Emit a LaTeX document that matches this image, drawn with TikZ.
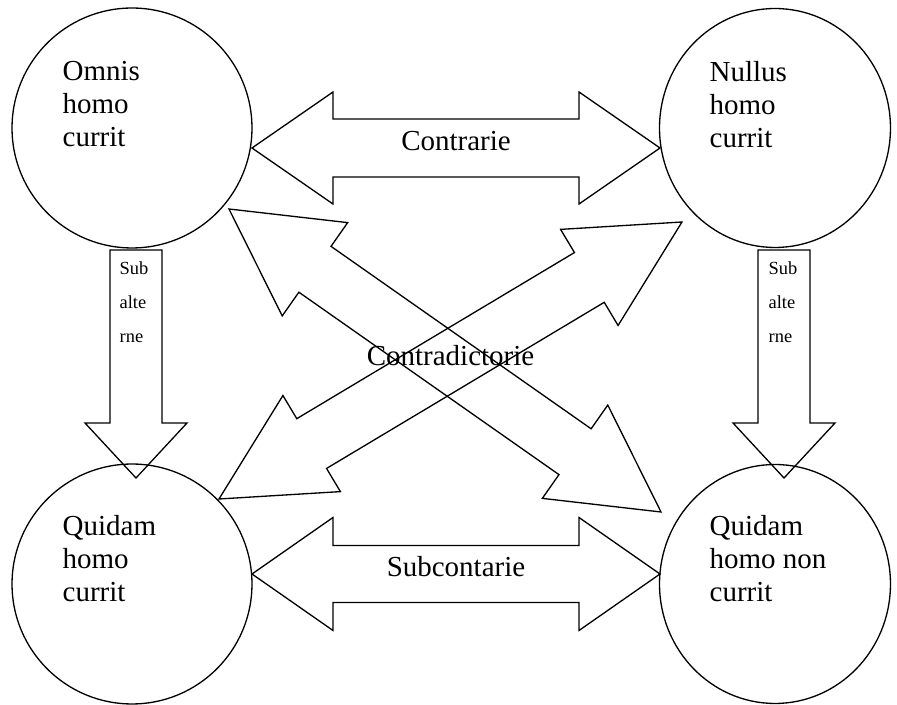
\documentclass[tikz,border=0pt]{standalone}
\usepackage{fontspec}
\setmainfont{Liberation Serif}
\usetikzlibrary{shapes.geometric, calc, positioning}

\newcommand{\dblarrow}[5]{%
  \coordinate (ha) at ($(#1)!#3!(#2)$);
  \coordinate (hb) at ($(#2)!#3!(#1)$);
  \draw[arrowbox] (#1) -- ($(ha)!#4!90:(#2)$) -- ($(ha)!#5!90:(#2)$) -- ($(hb)!#5!-90:(#1)$) -- ($(hb)!#4!-90:(#1)$) -- (#2) -- ($(hb)!#4!90:(#1)$) -- ($(hb)!#5!90:(#1)$) -- ($(ha)!#5!-90:(#2)$) -- ($(ha)!#4!-90:(#2)$) -- cycle;
}
\newcommand{\onearrow}[5]{%
  \coordinate (hb) at ($(#2)!#3!(#1)$);
  \draw[arrowbox] ($(#1)!#5!90:(#2)$) -- ($(hb)!#5!-90:(#1)$) -- ($(hb)!#4!-90:(#1)$) -- (#2) -- ($(hb)!#4!90:(#1)$) -- ($(hb)!#5!90:(#1)$) -- ($(#1)!#5!-90:(#2)$) -- cycle;
}

\begin{document}
\begin{tikzpicture}
[x=0.02cm, y=-0.02cm, line width=0.75pt,
roundbox/.style={ellipse, draw, inner sep=0pt, minimum width=4.8cm, minimum height=4.8cm},
narrowbox/.style={roundbox, minimum width=4.62cm, minimum height=4.78cm},
arrowbox/.style={draw, line join=miter},
bigtext/.style={font=\fontsize{16.5}{18.6}\selectfont, align=left, inner sep=0pt},
labeltext/.style={font=\fontsize{16.5}{18.6}\selectfont, inner sep=0pt},
smalltext/.style={font=\fontsize{10.5}{19.3}\selectfont, align=left, inner sep=0pt},
]
    \useasboundingbox (0,0) rectangle (897,705);

    \node (omnis) [roundbox] at (132,128) {};
    \node (nullus) [narrowbox] at (775,128) {};
    \node (quidam) [roundbox] at (132,584) {};
    \node (quidamnon) [narrowbox] at (775,584) {};

    \node (omnistext) [bigtext, anchor=north west] at ([shift={(-70,-67)}]omnis.center) {Omnis\\homo\\currit};
    \node (nullustext) [bigtext, anchor=north west] at ([shift={(-66,-67)}]nullus.center) {Nullus\\homo\\currit};
    \node (quidamtext) [bigtext, anchor=north west] at ([shift={(-70,-69)}]quidam.center) {Quidam\\homo\\currit};
    \node (quidamnontext) [bigtext, anchor=north west] at ([shift={(-66,-69)}]quidamnon.center) {Quidam\\homo non\\currit};

    \coordinate (c1) at ([shift={(120,20)}]omnis.center);
    \coordinate (c2) at ([shift={(-115,20)}]nullus.center);
    \coordinate (s1) at ([shift={(120,-10)}]quidam.center);
    \coordinate (s2) at ([shift={(-115,-10)}]quidamnon.center);
    \coordinate (a1) at ([shift={(97,81)}]omnis.center);
    \coordinate (a2) at ([shift={(-114,-72)}]quidamnon.center);
    \coordinate (b1) at ([shift={(87,-85)}]quidam.center);
    \coordinate (b2) at ([shift={(-93,94)}]nullus.center);
    \coordinate (l1) at ([shift={(4,122)}]omnis.center);
    \coordinate (l2) at ([shift={(4,-106)}]quidam.center);
    \coordinate (r1) at ([shift={(9,122)}]nullus.center);
    \coordinate (r2) at ([shift={(9,-106)}]quidamnon.center);

    \dblarrow{c1}{c2}{1.62cm}{1.12cm}{0.58cm}
    \dblarrow{s1}{s2}{1.62cm}{1.13cm}{0.57cm}
    \dblarrow{a1}{a2}{2.1cm}{1.14cm}{0.56cm}
    \dblarrow{b1}{b2}{2.16cm}{1.12cm}{0.58cm}
    \onearrow{l1}{l2}{1.1cm}{1.02cm}{0.52cm}
    \onearrow{r1}{r2}{1.1cm}{1.02cm}{0.52cm}

    \node (contrarie) [labeltext, anchor=base] at ($(c1)!0.5!(c2)+(0,3)$) {Contrarie};
    \node (subcontarie) [labeltext, anchor=base] at ($(s1)!0.5!(s2)+(0,3)$) {Subcontarie};
    \coordinate (cross) at (intersection of a1--a2 and b1--b2);
    \node (contradictorie) [labeltext, anchor=base] at ([shift={(3,3)}]cross) {Contradictorie};
    \node (subleft) [smalltext, anchor=north west] at ([shift={(-17,11)}]l1) {Sub\\alte\\rne};
    \node (subright) [smalltext, anchor=north west] at ([shift={(-16,11)}]r1) {Sub\\alte\\rne};
\end{tikzpicture}
\end{document}
